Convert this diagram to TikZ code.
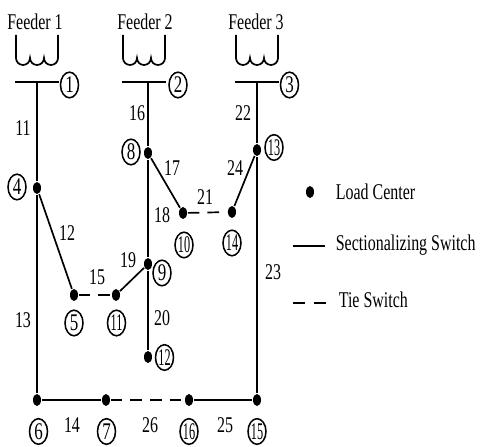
\documentclass[tikz,border=0pt]{standalone}
\usepackage{fontspec}
\setmainfont{Liberation Serif}[FakeStretch=0.71]
\usepackage{graphicx}
\usepackage{tikz}
\usetikzlibrary{shapes.geometric}

\newcommand{\nn}[1]{\scalebox{0.72}[1]{#1}}

\begin{document}
\begin{tikzpicture}[line width=1.2pt,
  dot/.style={ellipse, fill, inner sep=0pt, minimum width=0.2cm, minimum height=0.3cm},
  num/.style={ellipse, draw, line width=1.1pt, inner sep=0pt, minimum width=0.45cm, minimum height=0.64cm, font=\fontsize{17}{17}\selectfont},
  tie/.style={dash pattern=on 0.29cm off 0.2cm},
  every node/.append style={font=\fontsize{16}{19}\selectfont}]
\useasboundingbox (0,0) rectangle (12,11.175);

\node at (0.875, 10.625) (F1) {Feeder 1};
\node at (3.625, 10.625) (F2) {Feeder 2};
\node at (6.4, 10.625) (F3) {Feeder 3};

\draw (0.4, 10.3) -- (0.4, 9.725) arc (180:360:0.175) arc (180:360:0.175) arc (180:360:0.175) -- (1.45, 10.3);
\draw (3.075, 10.3) -- (3.075, 9.725) arc (180:360:0.175) arc (180:360:0.175) arc (180:360:0.175) -- (4.125, 10.3);
\draw (5.9, 10.3) -- (5.9, 9.725) arc (180:360:0.175) arc (180:360:0.175) arc (180:360:0.175) -- (6.95, 10.3);

\coordinate (b1) at (0.925, 9.125);
\coordinate (b2) at (3.7, 9.125);
\coordinate (b3) at (6.425, 9.125);
\draw (0.375, 9.125) -- (1.475, 9.125);
\draw (3.05, 9.125) -- (4.15, 9.125);
\draw (5.875, 9.125) -- (6.975, 9.125);

\node[num] at (1.7375, 9.05) (c1) {1};
\node[num] at (4.45, 9.05) (c2) {2};
\node[num] at (7.2375, 9.05) (c3) {3};

\node[dot] at (0.925, 6.475) (n4) {};
\node[dot] at (1.85, 3.8) (n5) {};
\node[dot] at (0.925, 1.175) (n6) {};
\node[dot] at (2.65, 1.175) (n7) {};
\node[dot] at (3.7, 7.35) (n8) {};
\node[dot] at (3.7, 4.575) (n9) {};
\node[dot] at (4.575, 5.85) (n10) {};
\node[dot] at (2.9, 3.8) (n11) {};
\node[dot] at (3.7, 2.25) (n12) {};
\node[dot] at (6.425, 7.425) (n13) {};
\node[dot] at (5.8, 5.875) (n14) {};
\node[dot] at (6.425, 1.175) (n15) {};
\node[dot] at (4.725, 1.175) (n16) {};

\node[num] at (0.425, 6.5) (c4) {4};
\node[num] at (1.85, 3.1) (c5) {5};
\node[num] at (0.9625, 0.3875) (c6) {6};
\node[num] at (2.6625, 0.3875) (c7) {7};
\node[num] at (3.275, 7.375) (c8) {8};
\node[num] at (4.05, 4.35) (c9) {9};
\node[num] at (4.6, 5.05) (c10) {\nn{10}};
\node[num] at (2.9125, 3.1) (c11) {\nn{11}};
\node[num] at (4.1125, 2.2375) (c12) {\nn{12}};
\node[num] at (6.85, 7.4875) (c13) {\nn{13}};
\node[num] at (5.8, 5.1) (c14) {\nn{14}};
\node[num] at (6.425, 0.3875) (c15) {\nn{15}};
\node[num] at (4.725, 0.3875) (c16) {\nn{16}};

\draw (b1) -- (n4);
\draw (n4) -- (n5);
\draw (n4) -- (n6);
\draw (n6) -- (n7);
\draw[tie] (n5) -- (n11);
\draw (b2) -- (n8);
\draw (n8) -- (n10);
\draw (n8) -- (n9);
\draw (n9) -- (n11);
\draw (n9) -- (n12);
\draw[tie] (n10) -- (n14);
\draw (b3) -- (n13);
\draw (n13) -- (n14);
\draw (n13) -- (n15);
\draw[tie] (n7) -- (n16);
\draw (n16) -- (n15);

\node at (0.575, 7.975) (e11) {11};
\node at (1.675, 5.35) (e12) {12};
\node at (0.575, 3.175) (e13) {13};
\node at (1.8, 0.55) (e14) {14};
\node at (2.425, 4.25) (e15) {15};
\node at (3.425, 8.35) (e16) {16};
\node at (4.3, 6.975) (e17) {17};
\node at (4.05, 5.8) (e18) {18};
\node at (3.2, 4.675) (e19) {19};
\node at (4.05, 3.225) (e20) {20};
\node at (5.125, 6.25) (e21) {21};
\node at (6.075, 8.35) (e22) {22};
\node at (6.825, 4.375) (e23) {23};
\node at (5.875, 6.975) (e24) {24};
\node at (5.625, 0.55) (e25) {25};
\node at (3.75, 0.55) (e26) {26};

\node[dot] at (7.75, 6.375) (kdot) {};
\node[anchor=west, inner sep=0pt] at (8.375, 6.375) (kload) {Load Center};
\coordinate (ks1) at (7.325, 5.025);
\coordinate (ks2) at (8.125, 5.025);
\draw (ks1) -- (ks2);
\node[anchor=west, inner sep=0pt] at (8.375, 5.05) (ksec) {Sectionalizing Switch};
\coordinate (kt1) at (7.325, 3.6);
\coordinate (kt2) at (8.175, 3.6);
\draw[dash pattern=on 0.3cm off 0.22cm] (kt1) -- (kt2);
\node[anchor=west, inner sep=0pt] at (8.45, 3.675) (ktie) {Tie Switch};
\end{tikzpicture}
\end{document}
